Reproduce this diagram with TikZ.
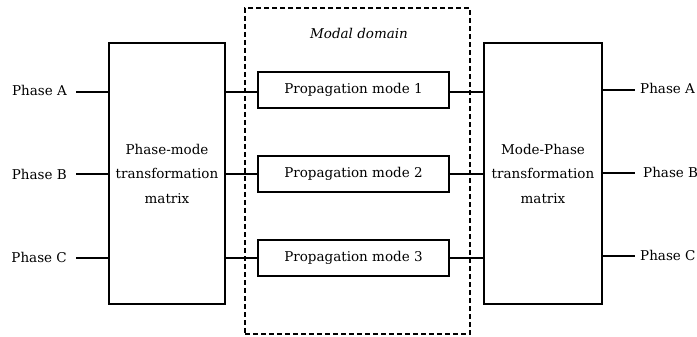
\documentclass[tikz,border=0pt]{standalone}
\usepackage{fontspec}
\setmainfont{DejaVu Serif}
\begin{document}
\begin{tikzpicture}[x=1pt,y=-1pt,
  blk/.style={draw, line width=2.5pt, inner sep=0pt, align=center, font=\fontsize{13.5}{24.5}\selectfont},
  mode/.style={draw, line width=2.5pt, inner sep=0pt, minimum width=191pt, minimum height=36pt, font=\fontsize{13.5}{16}\selectfont},
  wire/.style={line width=2.2pt},
  lbl/.style={inner sep=0pt, font=\fontsize{13.5}{16}\selectfont},
  dom/.style={draw, line width=1.2pt, dash pattern=on 5pt off 3pt, inner sep=0pt}]
\useasboundingbox (0,0) rectangle (697,337);
\node[dom, minimum width=225pt, minimum height=326pt] (domain) at (357.5,171) {};
\node[lbl, font=\fontsize{13.5}{16}\selectfont\itshape] (dlabel) at (359,33) {Modal domain};
\node[blk, minimum width=116pt, minimum height=261pt] (lbox) at (167,173.5) {Phase-mode\\transformation\\matrix};
\node[blk, minimum width=118pt, minimum height=261pt] (rbox) at (543,173.5) {Mode-Phase\\transformation\\matrix};
\node[mode] (m1) at (353.5,90) {Propagation mode 1};
\node[mode] (m2) at (353.5,174) {Propagation mode 2};
\node[mode] (m3) at (353.5,258) {Propagation mode 3};
% left inputs
\coordinate (ia) at (76,92);
\coordinate (ib) at (76,174);
\coordinate (ic) at (76,258);
\node[lbl, anchor=east] (la) at (67,90) {Phase A};
\node[lbl, anchor=east] (lb) at (67,174) {Phase B};
\node[lbl, anchor=east] (lc) at (67,257) {Phase C};
\draw[wire] (ia) -- (ia -| lbox.west);
\draw[wire] (ib) -- (ib -| lbox.west);
\draw[wire] (ic) -- (ic -| lbox.west);
% right outputs
\coordinate (oa) at (635,90);
\coordinate (ob) at (635,173);
\coordinate (oc) at (635,256);
\node[lbl, anchor=west] (ra) at (640,88) {Phase A};
\node[lbl, anchor=west] (rb) at (643,172) {Phase B};
\node[lbl, anchor=west] (rc) at (640,255) {Phase C};
\draw[wire] (oa -| rbox.east) -- (oa);
\draw[wire] (ob -| rbox.east) -- (ob);
\draw[wire] (oc -| rbox.east) -- (oc);
% modal connections
\draw[wire] (lbox.east |- 0,92) -- (m1.west |- 0,92);
\draw[wire] (lbox.east |- m2.west) -- (m2.west);
\draw[wire] (lbox.east |- m3.west) -- (m3.west);
\draw[wire] (m1.east |- 0,92) -- (rbox.west |- 0,92);
\draw[wire] (m2.east) -- (rbox.west |- m2.east);
\draw[wire] (m3.east) -- (rbox.west |- m3.east);
\end{tikzpicture}
\end{document}
